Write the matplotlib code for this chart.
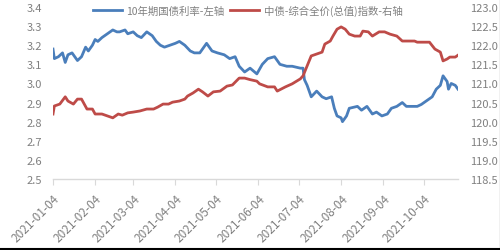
import matplotlib
matplotlib.use("Agg")
import matplotlib.pyplot as plt
import matplotlib.dates as mdates
from matplotlib.lines import Line2D
import pandas as pd

plt.rcParams['font.family'] = ['Noto Sans CJK SC', 'DejaVu Sans']

yield_dates = ["2021-01-04","2021-01-05","2021-01-08","2021-01-11","2021-01-13","2021-01-15","2021-01-18",
    "2021-01-22","2021-01-25","2021-01-28","2021-01-30","2021-02-02","2021-02-04","2021-02-06","2021-02-09",
    "2021-02-13","2021-02-17","2021-02-20","2021-02-22","2021-02-26","2021-02-28","2021-03-04","2021-03-07",
    "2021-03-10","2021-03-14","2021-03-18","2021-03-21","2021-03-24","2021-03-27","2021-03-31","2021-04-04",
    "2021-04-07","2021-04-11","2021-04-15","2021-04-18","2021-04-22","2021-04-27","2021-05-01","2021-05-05",
    "2021-05-10","2021-05-14","2021-05-18","2021-05-21","2021-05-25","2021-05-29","2021-06-03","2021-06-07",
    "2021-06-11","2021-06-16","2021-06-20","2021-06-25","2021-06-29","2021-07-05","2021-07-07","2021-07-08",
    "2021-07-10","2021-07-13","2021-07-17","2021-07-21","2021-07-24","2021-07-28","2021-07-30","2021-08-01",
    "2021-08-04","2021-08-05","2021-08-08","2021-08-10","2021-08-16","2021-08-19","2021-08-23","2021-08-27",
    "2021-08-30","2021-09-03","2021-09-07","2021-09-10","2021-09-14","2021-09-18","2021-09-21","2021-09-25",
    "2021-09-29","2021-10-02","2021-10-06","2021-10-10","2021-10-13","2021-10-16","2021-10-18","2021-10-21",
    "2021-10-22","2021-10-24","2021-10-27","2021-10-29"]
yield_values = [3.18,3.13,3.14,3.16,3.11,3.15,3.16,
    3.12,3.14,3.19,3.17,3.20,3.23,3.22,3.24,
    3.26,3.28,3.27,3.27,3.28,3.26,3.27,3.25,
    3.24,3.27,3.25,3.22,3.20,3.19,3.20,3.21,
    3.22,3.20,3.17,3.16,3.16,3.21,3.17,3.16,
    3.15,3.13,3.14,3.09,3.06,3.08,3.05,3.10,
    3.13,3.14,3.10,3.09,3.09,3.08,3.08,3.02,
    2.99,2.93,2.96,2.93,2.92,2.93,2.87,2.83,
    2.82,2.80,2.83,2.87,2.88,2.86,2.88,2.84,
    2.85,2.83,2.84,2.87,2.88,2.90,2.88,2.88,
    2.88,2.89,2.91,2.93,2.97,2.99,3.04,3.01,
    2.97,3.00,2.99,2.97]

index_dates = ["2021-01-04","2021-01-05","2021-01-09","2021-01-13","2021-01-15","2021-01-19","2021-01-22",
    "2021-01-25","2021-01-29","2021-02-02","2021-02-04","2021-02-09","2021-02-13","2021-02-17","2021-02-21",
    "2021-02-24","2021-02-28","2021-03-04","2021-03-09","2021-03-14","2021-03-19","2021-03-22","2021-03-26",
    "2021-03-30","2021-04-02","2021-04-07","2021-04-11","2021-04-13","2021-04-17","2021-04-21","2021-04-24",
    "2021-04-28","2021-05-02","2021-05-07","2021-05-12","2021-05-16","2021-05-21","2021-05-25","2021-05-29",
    "2021-06-03","2021-06-05","2021-06-11","2021-06-16","2021-06-18","2021-06-24","2021-06-29","2021-07-05",
    "2021-07-07","2021-07-10","2021-07-13","2021-07-17","2021-07-21","2021-07-23","2021-07-27","2021-07-29",
    "2021-08-01","2021-08-04","2021-08-07","2021-08-10","2021-08-14","2021-08-18","2021-08-20","2021-08-24",
    "2021-08-27","2021-09-01","2021-09-05","2021-09-09","2021-09-14","2021-09-18","2021-09-22","2021-09-27",
    "2021-09-29","2021-10-05","2021-10-08","2021-10-12","2021-10-16","2021-10-18","2021-10-21","2021-10-23",
    "2021-10-27","2021-10-29"]
index_values = [120.20,120.41,120.46,120.65,120.54,120.46,120.59,
    120.59,120.33,120.33,120.20,120.20,120.15,120.10,120.20,
    120.17,120.23,120.25,120.28,120.33,120.33,120.38,120.46,
    120.46,120.51,120.54,120.59,120.67,120.75,120.85,120.78,
    120.67,120.78,120.80,120.93,120.96,121.14,121.14,121.10,
    121.06,120.99,120.91,120.91,120.80,120.91,120.99,121.12,
    121.20,121.46,121.72,121.77,121.82,122.03,122.11,122.24,
    122.42,122.48,122.42,122.29,122.24,122.24,122.37,122.35,
    122.24,122.35,122.35,122.29,122.24,122.11,122.11,122.11,
    122.08,122.08,122.08,121.90,121.82,121.59,121.64,121.69,
    121.69,121.74]

tick_dates = ["2021-01-04","2021-02-04","2021-03-04","2021-04-04","2021-05-04",
              "2021-06-04","2021-07-04","2021-08-04","2021-09-04","2021-10-04"]
left_ticks = [2.5,2.6,2.7,2.8,2.9,3.0,3.1,3.2,3.3,3.4]
right_ticks = [118.5,119.0,119.5,120.0,120.5,121.0,121.5,122.0,122.5,123.0]

label_yield = "10年期国债利率-左轴"
label_index = "中债-综合全价(总值)指数-右轴"

blue = '#4A7EBB'
red = '#BE4B48'
gray = '#808080'

fig = plt.figure(figsize=(5.0, 2.51), dpi=100)
ax = fig.add_axes([0.106, 0.283, 0.81, 0.685])
ax2 = ax.twinx()

yd = pd.to_datetime(yield_dates)
idd = pd.to_datetime(index_dates)
l1, = ax.plot(yd, yield_values, color=blue, lw=2.0, solid_joinstyle='round')
l2, = ax2.plot(idd, index_values, color=red, lw=2.0, solid_joinstyle='round')

ax.set_ylim(2.5, 3.4)
ax2.set_ylim(118.5, 123.0)
ax.set_yticks(left_ticks)
ax.set_yticklabels([f"{v:.1f}" for v in left_ticks])
ax2.set_yticks(right_ticks)
ax2.set_yticklabels([f"{v:.1f}" for v in right_ticks])

td = pd.to_datetime(tick_dates)
ax.set_xlim(pd.Timestamp("2021-01-04"), pd.Timestamp("2021-10-29"))
ax.set_xticks(td)
ax.set_xticklabels(tick_dates, rotation=45, ha='right', rotation_mode='anchor')

for a in (ax, ax2):
    for s in a.spines.values():
        s.set_visible(False)
ax.spines['bottom'].set_visible(True)
ax.spines['bottom'].set_color('#D9D9D9')
ax.spines['bottom'].set_linewidth(1.0)

ax.tick_params(axis='y', length=0, pad=8, labelsize=8, labelcolor=gray)
ax2.tick_params(axis='y', length=0, pad=9, labelsize=8, labelcolor=gray)
ax.tick_params(axis='x', length=4, width=0.8, color='#D9D9D9', pad=5, labelsize=8.5, labelcolor=gray)

fig.legend([l1, l2], [label_yield, label_index], loc='center', bbox_to_anchor=(0.495, 0.955),
           ncol=2, frameon=False, fontsize=7.5, handlelength=2.8, columnspacing=0.6,
           handletextpad=0.4, labelcolor=gray)

fig.add_artist(Line2D([0, 1], [0.004, 0.004], color='black', lw=1.5, transform=fig.transFigure))
fig.add_artist(Line2D([0.999, 0.999], [0, 1], color='black', lw=0.8, transform=fig.transFigure))

fig.savefig("out.png", dpi=100)
